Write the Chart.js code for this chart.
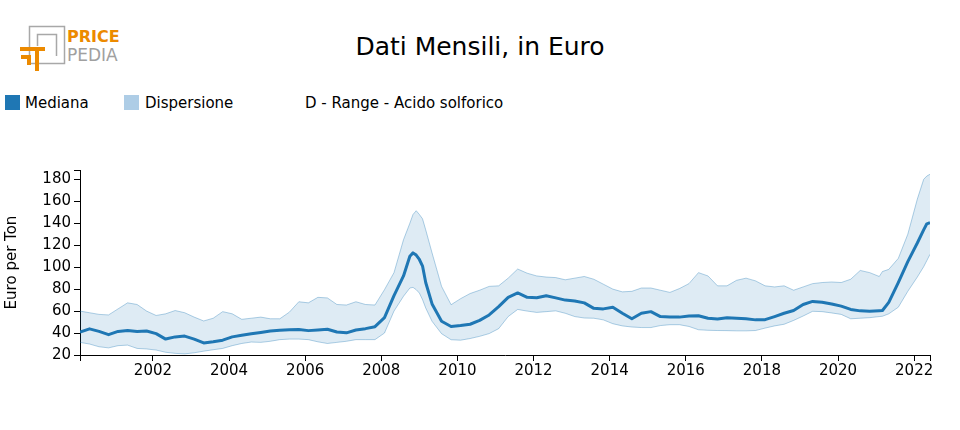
<!DOCTYPE html>
<html>
<head>
<meta charset="utf-8">
<title>Dati Mensili, in Euro</title>
<script src="https://cdn.jsdelivr.net/npm/chart.js@4.4.0/dist/chart.umd.min.js"></script>
<style>
  body { margin: 0; width: 960px; height: 430px; position: relative; overflow: hidden; background: #fff; font-family: "DejaVu Sans", sans-serif; color: #000; }
  #chart { position: absolute; left: 0; top: 0; }
  .title { position: absolute; left: 0; top: 32px; width: 960px; text-align: center; font-size: 25px; line-height: 30px; }
  .legend { position: absolute; top: 96px; font-size: 15px; line-height: 15px; white-space: nowrap; }
  .legend .sw { position: absolute; left: 0; top: -1px; width: 15px; height: 15px; }
  .logo { position: absolute; left: 0; top: 0; }
</style>
</head>
<body>
<svg class="logo" width="130" height="80">
  <rect x="29.5" y="26.5" width="35" height="37" fill="none" stroke="#a8a8a8" stroke-width="1.5"/>
  <path d="M37.5 46 V34.5 H56.5 V56" fill="none" stroke="#a8a8a8" stroke-width="1.5"/>
  <path d="M20 49 H45 M37 47 V71" fill="none" stroke="#ec8a00" stroke-width="4"/>
  <path d="M21 57 H31 M29 55 V65" fill="none" stroke="#ec8a00" stroke-width="4"/>
  <text x="67" y="42" font-family="DejaVu Sans" font-weight="bold" font-size="16" fill="#ec8a00">PRICE</text>
  <text x="67" y="61" font-family="DejaVu Sans" font-size="17" fill="#a0a0a0">PEDIA</text>
</svg>
<div class="title">Dati Mensili, in Euro</div>
<div class="legend" style="left:5px"><span class="sw" style="background:#1f77b4"></span><span style="margin-left:20px">Mediana</span></div>
<div class="legend" style="left:124px"><span class="sw" style="background:#aecde6"></span><span style="margin-left:21px">Dispersione</span></div>
<div class="legend" style="left:305px">D - Range - Acido solforico</div>
<canvas id="chart" width="960" height="430"></canvas>
<script>
// months (YYYY-MM)
const months = [
  '2000-02','2000-05','2000-08','2000-11',
  '2001-02','2001-05','2001-08','2001-11',
  '2002-02','2002-05','2002-08','2002-11',
  '2003-02','2003-05','2003-08','2003-11',
  '2004-02','2004-05','2004-08','2004-11',
  '2005-02','2005-05','2005-08','2005-11',
  '2006-02','2006-05','2006-08','2006-11',
  '2007-02','2007-05','2007-08','2007-11',
  '2008-02','2008-05','2008-08','2008-10','2008-11','2008-12',
  '2009-01','2009-02','2009-03','2009-05','2009-08','2009-11',
  '2010-02','2010-05','2010-08','2010-11',
  '2011-02','2011-05','2011-08','2011-11',
  '2012-02','2012-05','2012-08','2012-11',
  '2013-02','2013-05','2013-08','2013-11',
  '2014-02','2014-05','2014-08','2014-11',
  '2015-02','2015-05','2015-08','2015-11',
  '2016-02','2016-05','2016-08','2016-11',
  '2017-02','2017-05','2017-08','2017-11',
  '2018-02','2018-05','2018-08','2018-11',
  '2019-02','2019-05','2019-08','2019-11',
  '2020-02','2020-05','2020-08','2020-11',
  '2021-02','2021-03','2021-05','2021-08','2021-11',
  '2022-02','2022-04','2022-05','2022-06'
];

const median = [
  40.8, 43.8, 41.5, 38.5,
  41.5, 42.3, 41.5, 41.8,
  39.5, 34.5, 36.5, 37.2,
  34.5, 31, 32, 33.5,
  36.5, 38, 39.3, 40.5,
  41.8, 42.5, 43, 43.3,
  42.2, 42.8, 43.5, 41,
  40.2, 42.8, 44, 45.8,
  54, 74, 92, 110, 113, 111,
  107, 101, 86, 66.5, 50.7, 46,
  46.8, 48, 51.5, 56.5,
  64, 72.5, 76.5, 72.5,
  72.2, 74, 72, 70,
  69.2, 67.5, 62.5, 62,
  63.5, 58, 53, 58,
  59.5, 55, 54.5, 54.5,
  55.5, 55.8, 53.5, 52.8,
  54, 53.5, 53, 52,
  52.2, 55, 58, 60.5,
  66, 68.8, 68, 66.5,
  64.5, 61.5, 60.2, 59.8,
  60.3, 60.5, 68, 86, 105,
  122, 134, 139.5, 140.5
];

const upper = [
  60, 58.5, 57, 56.5,
  62, 67.5, 66, 60,
  56, 57.5, 60.5, 58.5,
  54.5, 51, 53.5, 59.5,
  57.5, 52.5, 53.5, 54.5,
  53, 53, 59, 68.5,
  67.5, 72.5, 72, 66,
  65.5, 68.5, 66, 65.5,
  79.5, 95, 125, 140, 148, 151.4,
  148, 144, 134, 113, 82.5, 65.8,
  71.3, 76, 79, 82.5,
  83, 90, 98.3, 94.5,
  92, 91, 90.5, 88.5,
  90, 91.5, 89, 84.5,
  80, 77.5, 78, 81,
  81, 79, 77, 80.5,
  85, 95, 92, 83,
  83, 88, 90, 87.5,
  83, 82, 83, 79,
  82, 85, 86, 86.5,
  86, 89, 97, 95,
  91.5, 96, 98, 108, 130,
  162, 180, 183, 184.6
];

const lower = [
  31.5, 30, 27.5, 26.5,
  28.5, 29, 26, 25.5,
  24.5, 22.5, 21.5, 21,
  22, 23.5, 24.8, 26,
  28.5, 30.5, 31.8, 31.5,
  32.5, 34, 34.5, 34.5,
  34, 32, 30.5, 31.5,
  32.5, 34, 34, 34,
  40, 60, 73.5, 81, 81.6, 79.5,
  76.4, 70.4, 62.8, 50.7, 39.4, 33.9,
  33.5, 35, 37, 39.5,
  44, 55, 61.5, 60,
  58.8, 59.5, 60.2, 58,
  55, 53.7, 53.5, 52,
  48.5, 46.5, 45.5, 45,
  45, 46.8, 47.6, 47.6,
  46, 43, 42.5, 42.3,
  42.2, 42, 42, 42.3,
  44.5, 46.5, 48, 51.5,
  55.5, 59.8, 59.5, 58.3,
  57, 53, 53.5, 54,
  55, 55.3, 57.5, 63.5, 78,
  91, 100.4, 106, 111.7
];

const yearTicks = [2002, 2004, 2006, 2008, 2010, 2012, 2014, 2016, 2018, 2020, 2022];
const yTicks = [20, 40, 60, 80, 100, 120, 140, 160, 180];
const yTop = 188.5;

// month string -> decimal year
const xs = months.map(m => {
  const [y, mo] = m.split('-').map(Number);
  return y + (mo - 1) / 12;
});
const pts = arr => xs.map((x, i) => ({ x: x, y: arr[i] }));

Chart.defaults.font.family = 'DejaVu Sans';
Chart.defaults.font.size = 15;
Chart.defaults.color = '#000';

const ctx = document.getElementById('chart');
new Chart(ctx, {
  type: 'line',
  data: {
    datasets: [
      { label: 'Mediana', data: pts(median), borderColor: '#1f77b4', borderWidth: 3,
        pointRadius: 0, fill: false, tension: 0, borderJoinStyle: 'round' },
      { label: 'Dispersione', data: pts(upper), borderColor: 'rgba(31,119,180,0.35)', borderWidth: 1,
        backgroundColor: 'rgba(31,119,180,0.15)', pointRadius: 0, fill: '+1', tension: 0 },
      { label: 'lower', data: pts(lower), borderColor: 'rgba(31,119,180,0.35)', borderWidth: 1,
        pointRadius: 0, fill: false, tension: 0 }
    ]
  },
  options: {
    responsive: false,
    animation: false,
    devicePixelRatio: 1,
    layout: { padding: { top: 170, right: 30, bottom: 35, left: 0 } },
    plugins: { legend: { display: false }, tooltip: { enabled: false } },
    scales: {
      x: {
        type: 'linear',
        min: xs[0],
        max: xs[xs.length - 1],
        border: { display: true, color: '#000', width: 1 },
        grid: { display: true, drawOnChartArea: false, drawTicks: true, tickLength: 6, color: '#000' },
        ticks: {
          autoSkip: false, maxRotation: 0, padding: 1,
          callback: v => yearTicks.includes(v) ? String(v) : ''
        },
        afterBuildTicks: s => {
          s.ticks = [xs[0]].concat(yearTicks, [xs[xs.length - 1]]).map(v => ({ value: v }));
        },
        afterFit: s => { s.height = 40; s.paddingLeft = 0; s.paddingRight = 0; }
      },
      y: {
        min: 20,
        max: yTop,
        border: { display: true, color: '#000', width: 1 },
        grid: { display: true, drawOnChartArea: false, drawTicks: true, tickLength: 6, color: '#000' },
        ticks: {
          autoSkip: false, padding: 3,
          callback: v => yTicks.includes(v) ? String(v) : ''
        },
        afterBuildTicks: s => {
          s.ticks = yTicks.concat([yTop]).map(v => ({ value: v }));
        },
        title: { display: true, text: 'Euro per Ton', padding: { top: 3, bottom: 0 } },
        afterFit: s => { s.width = 80; s.paddingTop = 0; s.paddingBottom = 0; }
      }
    }
  }
});
</script>
</body>
</html>
